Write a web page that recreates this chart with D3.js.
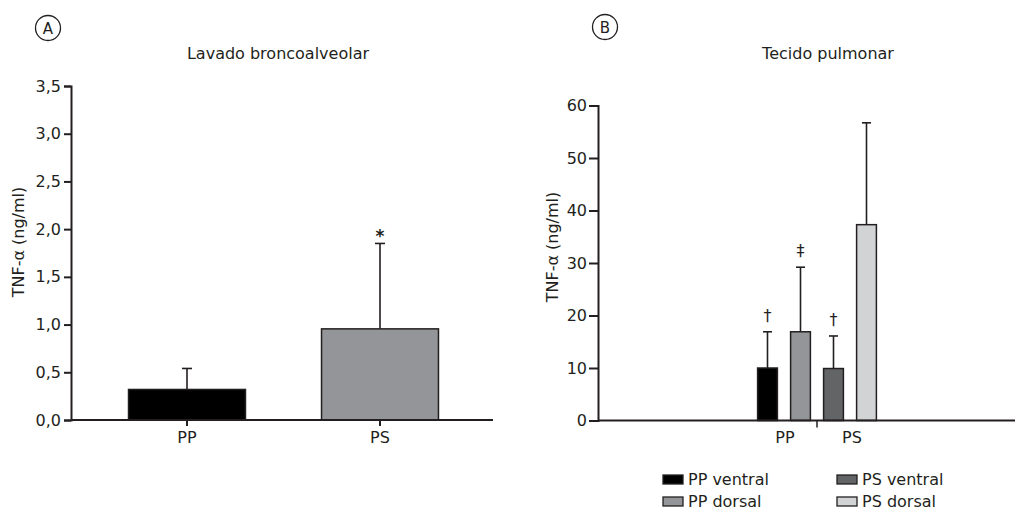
<!DOCTYPE html>
<html><head><meta charset="utf-8">
<script src="https://cdn.jsdelivr.net/npm/d3@7"></script>
<style>body{margin:0;background:#fff}svg text{font-family:"DejaVu Sans",sans-serif;fill:#231f20}</style>
</head><body>
<svg id="c" width="1015" height="510"></svg>
<script>
// Panel A data
const catsA = ["PP", "PS"];
const meanA = [0.32, 0.955];
const errA = [0.54, 1.85];
const marksA = ["", "*"];
const colorsA = ["#000000", "#939598"];
const ticksA = [0, 0.5, 1.0, 1.5, 2.0, 2.5, 3.0, 3.5];

// Panel B data
const groupsB = ["PP", "PS"];
const sidesB = ["ventral", "dorsal"];
const seriesB = ["PP ventral", "PP dorsal", "PS ventral", "PS dorsal"];
const meanB = [10, 16.9, 9.9, 37.3];
const errB = [16.9, 29.2, 16.1, 56.7];
const marksB = ["†", "‡", "†", ""];
const colorsB = ["#000000", "#939598", "#636466", "#d1d3d4"];
const ticksB = [0, 10, 20, 30, 40, 50, 60];

const svg = d3.select("#c");
const fmtA = d3.format(".1f");
const axisCol = "#231f20";

function styleAxis(g){
  g.selectAll("path,line").attr("stroke", axisCol).attr("stroke-width", 2);
  g.selectAll("text").attr("font-size", 16).attr("fill", axisCol);
}

// ---------- Panel A ----------
{
  const y = d3.scaleLinear().domain([0, 3.5]).range([420, 86]);
  const x = d3.scaleBand().domain(catsA).range([90.5, 476.5]).paddingInner(0.394).paddingOuter(0.197);
  const x0 = 71, xEnd = 493;

  svg.append("circle").attr("cx", 48).attr("cy", 28).attr("r", 12.5).attr("fill", "none").attr("stroke", axisCol).attr("stroke-width", 1.3);
  svg.append("text").attr("x", 48).attr("y", 33.5).attr("text-anchor", "middle").attr("font-size", 15).text("A");
  svg.append("text").attr("x", 278).attr("y", 59).attr("text-anchor", "middle").attr("font-size", 16).text("Lavado broncoalveolar");

  const bars = svg.append("g");
  catsA.forEach((c, i) => {
    const cx = x(c) + x.bandwidth() / 2;
    bars.append("line").attr("x1", cx).attr("x2", cx).attr("y1", y(meanA[i])).attr("y2", y(errA[i])).attr("stroke", axisCol).attr("stroke-width", 1.6);
    bars.append("line").attr("x1", cx - 5).attr("x2", cx + 5).attr("y1", y(errA[i])).attr("y2", y(errA[i])).attr("stroke", axisCol).attr("stroke-width", 1.6);
    bars.append("rect").attr("x", x(c)).attr("width", x.bandwidth()).attr("y", y(meanA[i])).attr("height", y(0) - y(meanA[i]))
      .attr("fill", colorsA[i]).attr("stroke", axisCol).attr("stroke-width", 1.5);
    if (marksA[i]) bars.append("text").attr("x", cx).attr("y", y(errA[i]) - 1).attr("text-anchor", "middle").attr("font-size", 17).attr("font-weight", "bold").text(marksA[i]);
  });

  const ya = svg.append("g").attr("transform", `translate(${x0},0)`)
    .call(d3.axisLeft(y).tickValues(ticksA).tickFormat(d => fmtA(d).replace(".", ",")).tickSize(7).tickSizeOuter(7).tickPadding(3));
  styleAxis(ya);
  const xa = svg.append("g").attr("transform", `translate(0,${y(0)})`);
  xa.append("line").attr("x1", x0).attr("x2", xEnd).attr("stroke", axisCol).attr("stroke-width", 2);
  catsA.forEach(c => {
    const cx = x(c) + x.bandwidth() / 2;
    xa.append("line").attr("x1", cx).attr("x2", cx).attr("y1", 0).attr("y2", 6).attr("stroke", axisCol).attr("stroke-width", 2);
    xa.append("text").attr("x", cx).attr("y", 23).attr("text-anchor", "middle").attr("font-size", 16).text(c);
  });

  svg.append("text").attr("transform", `translate(24,242) rotate(-90)`).attr("text-anchor", "middle").attr("font-size", 16).text("TNF-α (ng/ml)");
}

// ---------- Panel B ----------
{
  const y = d3.scaleLinear().domain([0, 60]).range([420.5, 105.5]);
  const xg = d3.scaleBand().domain(groupsB).range([751, 883]);
  const xs = d3.scaleBand().domain(sidesB).range([0, xg.bandwidth()]).paddingInner(0.4).paddingOuter(0.2);
  const x0 = 598, xEnd = 1015;

  svg.append("circle").attr("cx", 605).attr("cy", 27).attr("r", 12.5).attr("fill", "none").attr("stroke", axisCol).attr("stroke-width", 1.3);
  svg.append("text").attr("x", 605).attr("y", 32.5).attr("text-anchor", "middle").attr("font-size", 15).text("B");
  svg.append("text").attr("x", 828).attr("y", 59).attr("text-anchor", "middle").attr("font-size", 16).text("Tecido pulmonar");

  const bars = svg.append("g");
  seriesB.forEach((s, i) => {
    const g = groupsB[Math.floor(i / 2)], side = sidesB[i % 2];
    const bx = xg(g) + xs(side);
    const cx = bx + xs.bandwidth() / 2;
    bars.append("line").attr("x1", cx).attr("x2", cx).attr("y1", y(meanB[i])).attr("y2", y(errB[i])).attr("stroke", axisCol).attr("stroke-width", 1.6);
    bars.append("line").attr("x1", cx - 4.5).attr("x2", cx + 4.5).attr("y1", y(errB[i])).attr("y2", y(errB[i])).attr("stroke", axisCol).attr("stroke-width", 1.6);
    bars.append("rect").attr("x", bx).attr("width", xs.bandwidth()).attr("y", y(meanB[i])).attr("height", y(0) - y(meanB[i]))
      .attr("fill", colorsB[i]).attr("stroke", axisCol).attr("stroke-width", 1.5);
    if (marksB[i]) bars.append("text").attr("x", cx).attr("y", y(errB[i]) - 11).attr("text-anchor", "middle").attr("font-size", 16).text(marksB[i]);
  });

  const ya = svg.append("g").attr("transform", `translate(${x0},0)`)
    .call(d3.axisLeft(y).tickValues(ticksB).tickSize(9).tickSizeOuter(9).tickPadding(2));
  styleAxis(ya);

  const xa = svg.append("g").attr("transform", `translate(0,${y(0)})`);
  xa.append("line").attr("x1", x0).attr("x2", xEnd).attr("stroke", axisCol).attr("stroke-width", 2);
  const mid = xg("PS");
  xa.append("line").attr("x1", mid).attr("x2", mid).attr("y1", 0).attr("y2", 7).attr("stroke", axisCol).attr("stroke-width", 1.5);
  groupsB.forEach(g => {
    xa.append("text").attr("x", xg(g) + xg.bandwidth() / 2 + (g === "PP" ? 1 : 2)).attr("y", 22).attr("text-anchor", "middle").attr("font-size", 16).text(g);
  });

  svg.append("text").attr("transform", `translate(558,247) rotate(-90)`).attr("text-anchor", "middle").attr("font-size", 16).text("TNF-α (ng/ml)");

  const leg = svg.append("g");
  const legPos = [[663, 475], [663, 497], [837, 475], [837, 497]];
  seriesB.forEach((s, i) => {
    const [lx, ly] = legPos[i];
    leg.append("rect").attr("x", lx).attr("y", ly).attr("width", 20).attr("height", 9).attr("fill", colorsB[i]).attr("stroke", axisCol).attr("stroke-width", 1.3);
    leg.append("text").attr("x", lx + 25).attr("y", ly + 10).attr("font-size", 16).text(s);
  });
}
</script>
</body></html>
